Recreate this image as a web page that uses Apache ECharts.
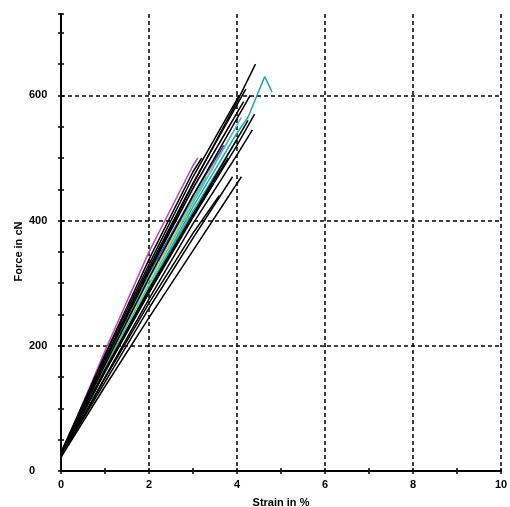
<!DOCTYPE html>
<html>
<head>
<meta charset="utf-8">
<script src="https://cdn.jsdelivr.net/npm/echarts@6/dist/echarts.min.js"></script>
<style>
html, body { margin: 0; padding: 0; background: #fff; }
#chart { width: 510px; height: 507px; }
</style>
</head>
<body>
<div id="chart"></div>
<script>
// strain (%) / force (cN) pairs, one array per specimen
var specA = [[0, 25], [1, 192], [2, 350], [3, 488], [3.11, 500]];
var specB = [[0, 28], [1, 178], [2, 320], [3, 458], [4, 590], [4.42, 650]];
var specC = [[0, 22], [1, 160], [2, 292], [3, 422], [4, 540], [4.25, 565], [4.63, 630], [4.8, 605]];
var specD = [[0, 25], [1, 160], [2, 285], [3, 405], [4, 520], [4.4, 570]];
var specE = [[0, 30], [1, 185], [2, 330], [3, 470], [4.05, 600]];
var specF = [[0, 26], [1, 175], [2, 318], [3, 452], [4.15, 590]];
var specG = [[0, 24], [1, 162], [2, 290], [3, 408], [3.45, 458]];
var specH = [[0, 25], [1, 168], [2, 305], [3, 432], [3.9, 540]];
var specI = [[0, 22], [1, 135], [2, 245], [3, 352], [4.1, 470]];
var specJ = [[0, 27], [1, 175], [2, 315], [3, 440], [3.7, 520]];
var specK = [[0, 28], [1, 180], [2, 325], [3, 460], [4.2, 610]];
var specL = [[0, 25], [1, 172], [2, 312], [3, 435], [3.3, 470]];
var specM = [[0, 28], [1, 178], [2, 320], [3, 450], [3.9, 560]];
var specN = [[0, 25], [1, 170], [2, 308], [3, 440], [4.3, 600]];
var specO = [[0, 22], [1, 148], [2, 268], [3, 380], [3.6, 440]];
var specP = [[0, 24], [1, 160], [2, 292], [3, 415], [4, 530]];
var specQ = [[0, 26], [1, 158], [2, 285], [3, 410], [4.25, 560]];
var specR = [[0, 25], [1, 160], [2, 290], [3, 410], [3.8, 500]];
var specS = [[0, 23], [1, 150], [2, 275], [3, 395], [4, 505], [4.35, 545]];
var specT = [[0, 26], [1, 165], [2, 298], [3, 428], [4.1, 565]];
var specU = [[0, 24], [1, 142], [2, 260], [3, 372], [3.9, 470]];
var specV = [[0, 27], [1, 186], [2, 338], [3, 478], [3.2, 500]];

var specimens = [specA, specP, specC, specH, specJ, specL, specM, specT,
	specB, specD, specE, specF, specG, specI, specK, specN, specO, specQ, specR, specS, specU, specV];
var colors = ['#c040c0', '#20a0a0', '#20a8a8', '#d0d020', '#3030c0', '#30c8c8', '#e080e0', '#40c0c0',
	'#000', '#000', '#000', '#000', '#000', '#000', '#000', '#000', '#000', '#000', '#000', '#000', '#000', '#000'];

var font = { fontFamily: 'Liberation Sans', fontWeight: 'bold', fontSize: 11, color: '#000' };
var grid = { left: 61, right: 9, top: 14, bottom: 36, outerBoundsMode: 'none', containLabel: false };

function tickAxis(inside, min, max, interval, position)
{
	return {
		type: 'value', min: min, max: max, interval: interval, position: position,
		axisLine: { show: false },
		axisTick: { show: true, inside: inside, length: 3, lineStyle: { color: '#000', width: 1.5 } },
		axisLabel: { show: false },
		splitLine: { show: false }
	};
}

var series = specimens.map(function(d, i)
{
	return {
		type: 'line', data: d, showSymbol: false, silent: true,
		lineStyle: { color: colors[i], width: 1.5 }
	};
});

var chart = echarts.init(document.getElementById('chart'), null, { renderer: 'canvas', devicePixelRatio: 1 });
chart.setOption({
	animation: false,
	grid: grid,
	xAxis: [
		{
			type: 'value', min: 0, max: 10, interval: 2, position: 'bottom',
			name: 'Strain in %', nameLocation: 'middle', nameGap: 26, nameMoveOverlap: false,
			nameTextStyle: font,
			axisLine: { show: true, lineStyle: { color: '#000', width: 2 } },
			axisTick: { show: false },
			axisLabel: Object.assign({ margin: 8 }, font),
			splitLine: { show: true, lineStyle: { color: '#000', type: [4, 3], width: 1.5 } }
		},
		tickAxis(false, 0, 10, 1, 'bottom'),
		tickAxis(true, 0, 10, 1, 'bottom')
	],
	yAxis: [
		{
			type: 'value', min: 0, max: 730, interval: 200, position: 'left',
			name: 'Force in cN', nameLocation: 'middle', nameGap: 37, nameMoveOverlap: false,
			nameTextStyle: Object.assign({ padding: [0, 18, 0, 0] }, font),
			axisLine: { show: true, lineStyle: { color: '#000', width: 2 } },
			axisTick: { show: false },
			axisLabel: Object.assign({ margin: 32, align: 'left', showMaxLabel: false }, font),
			splitLine: { show: true, showMaxLine: false, lineStyle: { color: '#000', type: [4, 3], width: 1.5 } }
		},
		tickAxis(false, 0, 730, 50, 'left'),
		tickAxis(true, 0, 730, 50, 'left')
	],
	series: series
});
</script>
</body>
</html>
